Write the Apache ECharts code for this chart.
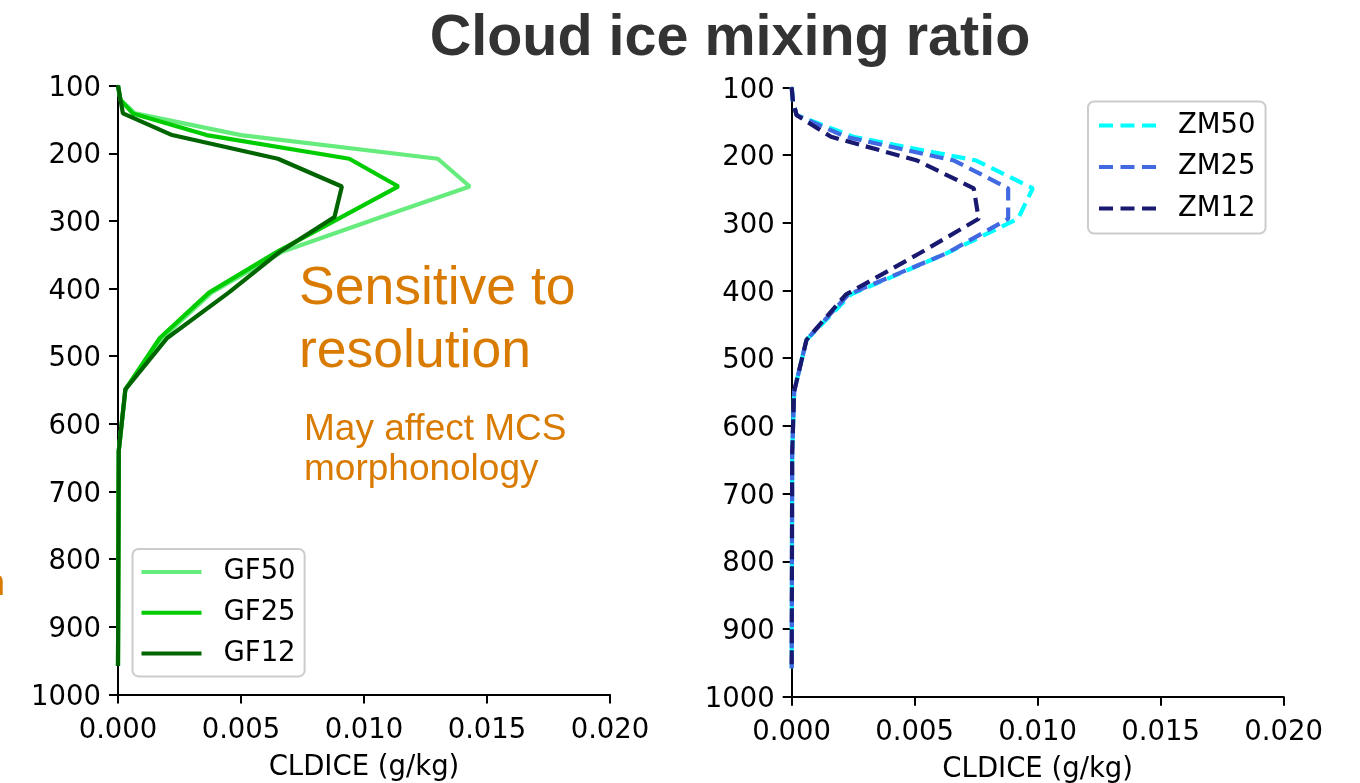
<!DOCTYPE html>
<html>
<head>
<meta charset="utf-8">
<script src="https://cdn.jsdelivr.net/npm/echarts@6/dist/echarts.min.js"></script>
<style>
html,body{margin:0;padding:0;background:#fff;}
#chart{width:1360px;height:783px;}
</style>
</head>
<body>
<div id="chart"></div>
<script>
// Pressure levels (hPa)
const levels = [100, 121, 141, 173, 208, 249, 294, 345, 406, 473, 549, 640, 958];
// CLDICE (g/kg)
const gf50 = [0, 0.0001, 0.0007, 0.0050, 0.0130, 0.0143, 0.0107, 0.0067, 0.0038, 0.0018, 0.0003, 0.00003, 0];
const gf25 = [0, 0.0001, 0.0006, 0.0036, 0.0094, 0.0114, 0.0091, 0.0065, 0.0037, 0.0017, 0.0003, 0.00003, 0];
const gf12 = [0, 0.0001, 0.0002, 0.0022, 0.0065, 0.0091, 0.0088, 0.0066, 0.0045, 0.0020, 0.0003, 0.00003, 0];
const zm50 = [0, 0.00005, 0.0002, 0.0025, 0.0075, 0.0098, 0.0092, 0.0063, 0.0024, 0.0006, 0.0001, 0.00002, 0];
const zm25 = [0, 0.00005, 0.0002, 0.0022, 0.0066, 0.0088, 0.0088, 0.0063, 0.0023, 0.0006, 0.0001, 0.00002, 0];
const zm12 = [0, 0.00005, 0.0002, 0.0016, 0.0051, 0.0074, 0.0076, 0.0052, 0.0022, 0.0006, 0.0001, 0.00002, 0];
const xTicks = ['0.000', '0.005', '0.010', '0.015', '0.020'];
const yTicks = ['100','200','300','400','500','600','700','800','900','1000'];

const chart = echarts.init(document.getElementById('chart'), null, {renderer: 'canvas'});
const FONT = 'DejaVu Sans';
const FS = 27.5;
const pair = v => levels.map((p, i) => [v[i], p]);

function xAx(gi) {
  return {
    type: 'value', gridIndex: gi, min: 0, max: 0.02, interval: 0.005,
    axisLine: {show: true, onZero: false, lineStyle: {color: '#000', width: 2}},
    axisTick: {show: true, length: 9, lineStyle: {color: '#000', width: 2}},
    splitLine: {show: false},
    axisLabel: {fontFamily: FONT, fontSize: FS, color: '#000', margin: 22,
      formatter: v => xTicks[Math.round(v / 0.005)]},
    name: 'CLDICE (g/kg)', nameLocation: 'middle', nameGap: 59,
    nameTextStyle: {fontFamily: FONT, fontSize: FS, color: '#000'}
  };
}
function yAx(gi) {
  return {
    type: 'value', gridIndex: gi, inverse: true, min: 100, max: 1000, interval: 100,
    axisLine: {show: true, onZero: false, lineStyle: {color: '#000', width: 2}},
    axisTick: {show: true, length: 9, lineStyle: {color: '#000', width: 2}},
    splitLine: {show: false},
    axisLabel: {fontFamily: FONT, fontSize: FS, color: '#000', margin: 17,
      verticalAlign: 'top', lineHeight: 6,
      formatter: v => yTicks[Math.round(v / 100) - 1]}
  };
}
function line(name, data, color, gi, dashed) {
  return {
    name, type: 'line', xAxisIndex: gi, yAxisIndex: gi, data: pair(data),
    symbol: 'none', showSymbol: false, silent: true, animation: false,
    lineStyle: {color, width: 4.2, type: dashed ? [14, 7] : 'solid'},
    itemStyle: {color}
  };
}
const dashIcon = 'path://M0,0h14v4h-14zM21.5,0h14v4h-14zM43,0h14v4h-14z';
const legendBase = {
  orient: 'vertical', itemHeight: 4, itemGap: 11.5,
  backgroundColor: '#fff', borderColor: '#cccccc', borderWidth: 2, borderRadius: 6,
  textStyle: {fontFamily: FONT, fontSize: FS, color: '#000', lineHeight: 30, padding: [0, 0, 0, 17]},
  selectedMode: false
};

const option = {
  backgroundColor: '#fff',
  animation: false,
  grid: [
    {left: 118, top: 85.7, width: 492, height: 608.7, outerBoundsMode: 'none', containLabel: false},
    {left: 791.7, top: 87.4, width: 492, height: 609.3, outerBoundsMode: 'none', containLabel: false}
  ],
  xAxis: [xAx(0), xAx(1)],
  yAxis: [yAx(0), yAx(1)],
  legend: [
    Object.assign({}, legendBase, {left: 132.5, top: 549, padding: [8, 9, 8, 9], itemGap: 10.7, itemWidth: 60, icon: 'rect',
      data: ['GF50', 'GF25', 'GF12']}),
    Object.assign({}, legendBase, {left: 1088, top: 101.5, padding: [9, 10, 10, 11], itemWidth: 57, icon: dashIcon,
      data: ['ZM50', 'ZM25', 'ZM12']})
  ],
  series: [
    line('GF50', gf50, '#66ec7c', 0, false),
    line('GF25', gf25, '#00cc00', 0, false),
    line('GF12', gf12, '#006400', 0, false),
    line('ZM50', zm50, '#00ffff', 1, true),
    line('ZM25', zm25, '#4169e1', 1, true),
    line('ZM12', zm12, '#191970', 1, true)
  ],
  graphic: [
    {type: 'text', x: 730, y: 39, style: {text: 'Cloud ice mixing ratio', fontFamily: 'Liberation Sans', fontWeight: 'bold', fontSize: 57.5, fill: '#333333', align: 'center', verticalAlign: 'middle'}},
    {type: 'text', x: 299, y: 289, style: {text: 'Sensitive to', fontFamily: 'Liberation Sans', fontSize: 53.5, fill: '#d97b00', align: 'left', verticalAlign: 'middle'}},
    {type: 'text', x: 299, y: 352, style: {text: 'resolution', fontFamily: 'Liberation Sans', fontSize: 53.5, fill: '#d97b00', align: 'left', verticalAlign: 'middle'}},
    {type: 'text', x: 304, y: 430, style: {text: 'May affect MCS', fontFamily: 'Liberation Sans', fontSize: 37, fill: '#d97b00', align: 'left', verticalAlign: 'middle'}},
    {type: 'text', x: 304, y: 470, style: {text: 'morphonology', fontFamily: 'Liberation Sans', fontSize: 37, fill: '#d97b00', align: 'left', verticalAlign: 'middle'}},
    {type: 'text', x: 5, y: 585, style: {text: 'n', fontFamily: 'Liberation Sans', fontSize: 36, fill: '#d97b00', align: 'right', verticalAlign: 'middle'}}
  ]
};
chart.setOption(option);
</script>
</body>
</html>
